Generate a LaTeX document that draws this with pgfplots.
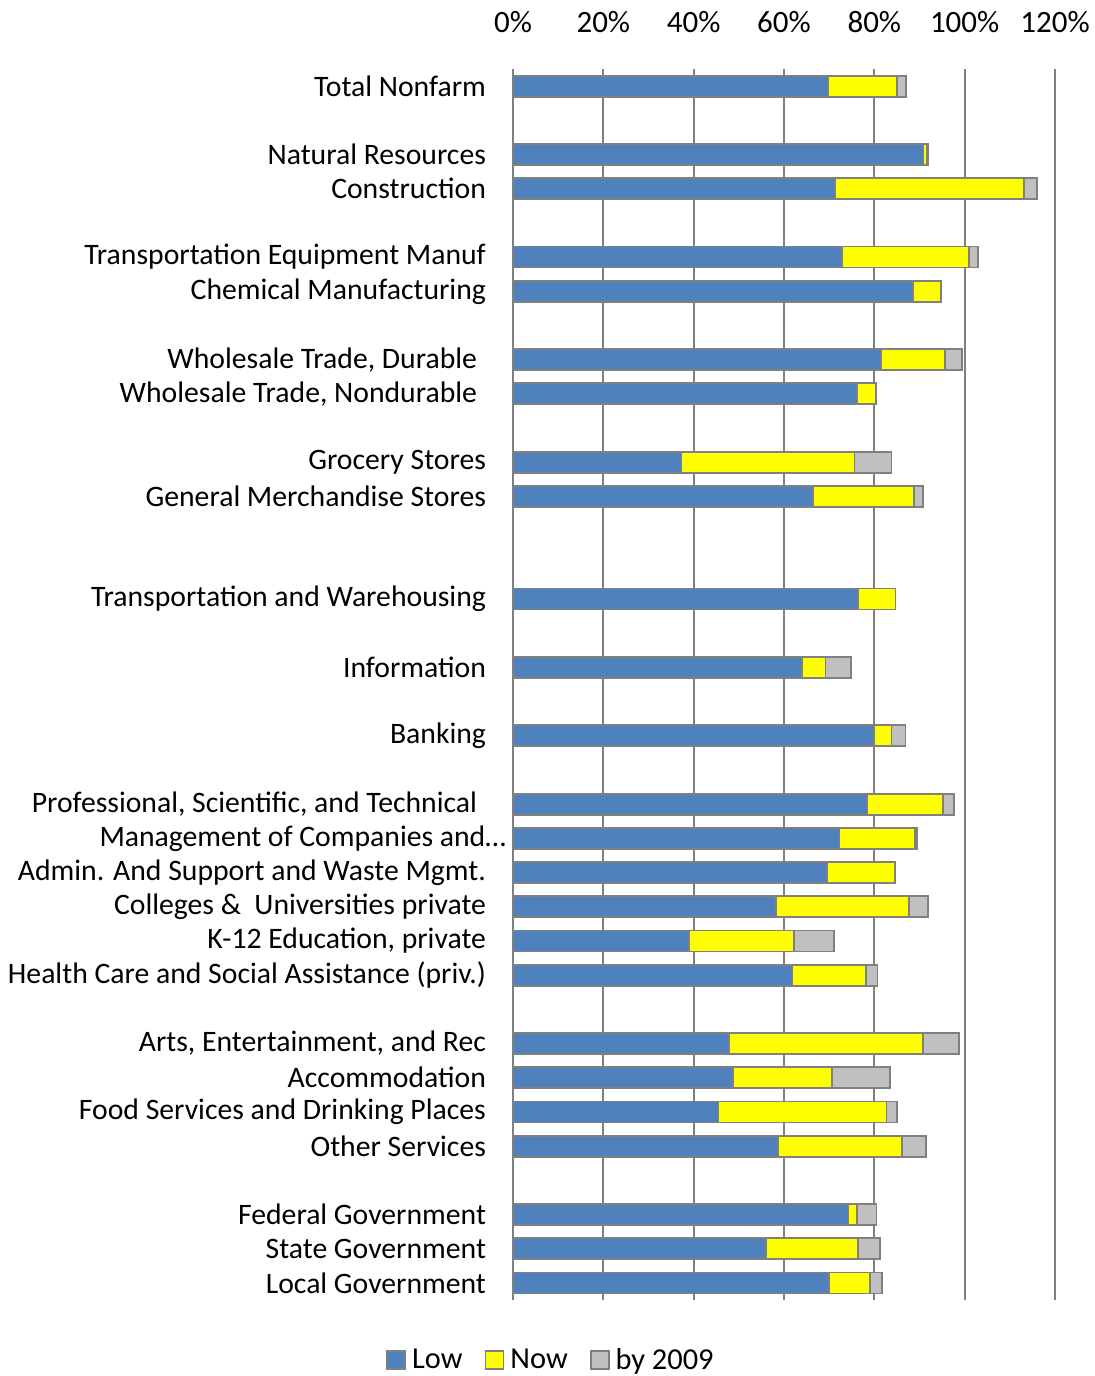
\documentclass[border=0pt]{standalone}
\usepackage{pgfplots}
\pgfplotsset{compat=1.18}
\usepackage{pgfplotstable}
\usepackage{fontspec}
\setmainfont{Carlito}
\definecolor{cLow}{HTML}{4F81BD}
\definecolor{cNow}{HTML}{FFFF00}
\definecolor{cBy}{HTML}{C0C0C0}
\definecolor{cEdge}{HTML}{808080}
\pgfplotstableread{
y low now by
0 69.7 15.4 1.9
2 90.9 0.8 0.2
3 71.3 41.9 2.8
5 72.9 28.1 1.9
6 88.5 6.2 0
8 81.4 14.3 3.7
9 76.2 4.2 0
11 37.3 38.3 8.2
12 66.4 22.3 2.1
15 76.4 8.3 0
17 63.9 5.3 5.7
19 80.0 3.8 3.1
21 78.4 16.8 2.4
22 72.3 16.7 0.4
23 69.5 15.0 0
24 58.2 29.5 4.2
25 38.9 23.3 8.9
26 61.9 16.2 2.6
28 47.8 43.0 7.9
29 48.7 22.0 12.7
30 45.5 37.2 2.3
31 58.6 27.6 5.3
33 74.3 1.9 4.3
34 56.1 20.3 4.9
35 70.0 9.0 2.7
}\datatable
\begin{document}
\begin{tikzpicture}
\begin{axis}[name=ax,
  scale only axis, width=271pt, height=615.5pt,
  xbar stacked, bar width=10.5pt,
  xmin=0, xmax=120, ymin=-0.5, ymax=35.5, y dir=reverse,
  xtick={0,20,40,60,80,100,120},
  xticklabels={0\%,20\%,40\%,60\%,80\%,100\%,120\%},
  xticklabel pos=top,
  ytick={0,2,3,5,6,8,9,11,12,15,17,19,21,22,23,24,25,26,28,29,30,31,33,34,35},
  yticklabels={Total Nonfarm, Natural Resources, Construction, Transportation Equipment Manuf, Chemical Manufacturing, {Wholesale Trade, Durable\hspace{0.3em}\mbox{}}, {Wholesale Trade, Nondurable\hspace{0.3em}\mbox{}}, Grocery Stores, General Merchandise Stores, Transportation and Warehousing, Information, Banking, {Professional, Scientific, and Technical\hspace{0.3em}\mbox{}}, {Management of Companies and…\hspace{-10pt}\mbox{}}, Admin. And Support and Waste Mgmt., {Colleges \&\ \ Universities private}, {K-12 Education, private}, Health Care and Social Assistance (priv.), {Arts, Entertainment, and Rec}, Accommodation, Food Services and Drinking Places, Other Services, Federal Government, State Government, Local Government},
  major tick length=0pt,
  xticklabel style={yshift=14.5pt, font=\fontsize{15.5}{18}\selectfont},
  yticklabel style={xshift=-10pt, font=\fontsize{14.85}{18}\selectfont},
  tick label style={text=black},
  /pgf/number format/assume math mode=true,
  xmajorgrids, grid style={draw=cEdge, line width=1pt},
  axis line style={draw=none},
  legend style={at={(axis description cs:0.072,-0.049)}, anchor=center, draw=none,
    legend columns=-1, font=\fontsize{15.2}{18}\selectfont,
    /tikz/every odd column/.append style={column sep=1pt},
    /tikz/every even column/.append style={column sep=9pt}},
  legend image code/.code={\draw[#1] (0pt,-4.5pt) rectangle (9pt,4.5pt);},
  every axis plot/.append style={draw=cEdge, line width=0.9pt},
]
\addplot[fill=cLow, draw=cEdge] table[x=low, y=y] {\datatable};
\addplot[fill=cNow, draw=cEdge] table[x=now, y=y] {\datatable};
\addplot[fill=cBy, draw=cEdge] table[x=by, y=y] {\datatable};
\legend{Low, Now, by 2009}
\end{axis}
\pgfresetboundingbox
\path ([shift={(-256.5pt,-38pt)}]ax.south west) rectangle ([shift={(20pt,34.5pt)}]ax.north east);
\end{tikzpicture}
\end{document}
